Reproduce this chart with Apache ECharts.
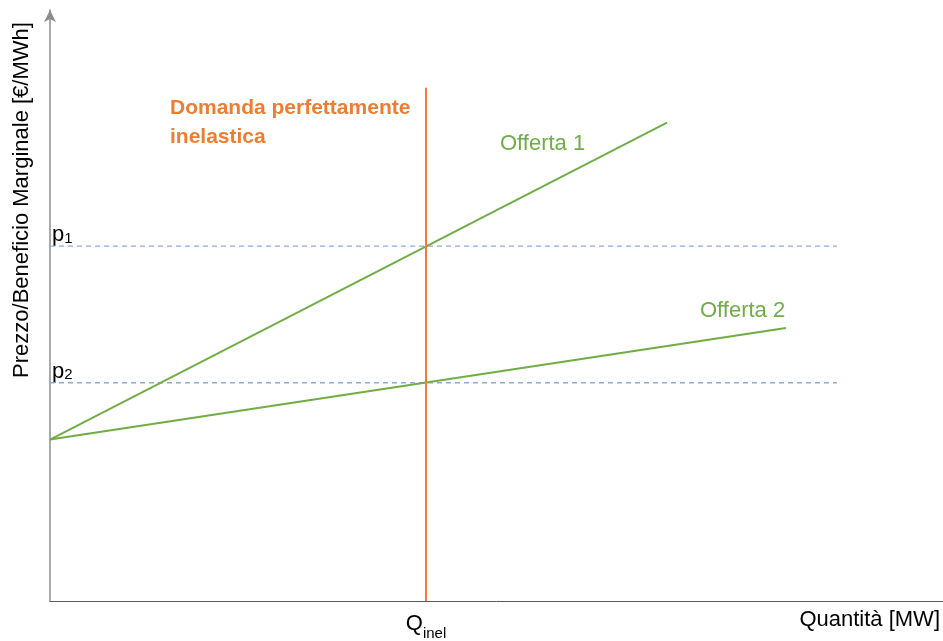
<!DOCTYPE html>
<html>
<head>
<meta charset="utf-8">
<script src="https://cdn.jsdelivr.net/npm/echarts@6/dist/echarts.min.js"></script>
<style>
  html, body { margin: 0; padding: 0; background: #fff; }
  #chart { width: 943px; height: 641px; }
</style>
</head>
<body>
<div id="chart"></div>
<script>
// quantity / price in arbitrary units (axes have no numeric ticks)
const offerta1 = [[0, 162], [617, 480]]
const offerta2 = [[0, 162], [736, 274]]
const qInel = 376
const domanda = [[qInel, 0], [qInel, 515]]
const p1 = 356
const p2 = 219
const pLineEnd = 787

const FONT = 'Liberation Sans'
const green = '#70ad47'
const orange = '#ed7d31'
const dashBlue = '#8eaadb'

const chart = echarts.init(document.getElementById('chart'))

const option = {
  animation: false,
  grid: { left: 50, right: 0, top: 10, bottom: 38 },
  xAxis: {
    type: 'value',
    min: 0,
    max: 893,
    axisLine: { show: true, lineStyle: { color: '#595959', width: 1 } },
    axisTick: { show: false },
    splitLine: { show: false },
    axisLabel: {
      customValues: [qInel],
      margin: 12,
      formatter: () => '{q|Q}{s|inel}',
      rich: {
        q: { fontFamily: FONT, fontSize: 22, color: '#000', verticalAlign: 'bottom' },
        s: { fontFamily: FONT, fontSize: 15, color: '#000', verticalAlign: 'bottom', padding: [0, 0, -6, 0] }
      }
    }
  },
  yAxis: {
    type: 'value',
    min: 0,
    max: 593,
    axisLine: {
      show: true,
      symbol: ['none', 'arrow'],
      symbolSize: [9, 12],
      lineStyle: { color: '#8c8c8c', width: 1.5 }
    },
    axisTick: { show: false },
    splitLine: { show: false },
    axisLabel: {
      inside: true,
      customValues: [p2, p1],
      margin: 2,
      verticalAlign: 'bottom',
      formatter: v => v === p1 ? '{p|p}{s|1}' : '{p|p}{s|2}',
      rich: {
        p: { fontFamily: FONT, fontSize: 22, color: '#000' },
        s: { fontFamily: FONT, fontSize: 15, color: '#000', padding: [0, 0, -7, 0] }
      }
    }
  },
  series: [
    {
      type: 'line', data: [[0, p1], [pLineEnd, p1]], symbol: 'none', silent: true,
      lineStyle: { color: dashBlue, width: 1.3, type: [5, 4] }
    },
    {
      type: 'line', data: [[0, p2], [pLineEnd, p2]], symbol: 'none', silent: true,
      lineStyle: { color: dashBlue, width: 1.3, type: [5, 4] }
    },
    {
      type: 'line', data: offerta1, symbol: 'none', silent: true,
      lineStyle: { color: green, width: 2 }
    },
    {
      type: 'line', data: offerta2, symbol: 'none', silent: true,
      lineStyle: { color: green, width: 2 }
    },
    {
      type: 'line', data: domanda, symbol: 'none', silent: true,
      lineStyle: { color: orange, width: 2 }
    }
  ]
}
chart.setOption(option)

// text annotations placed at data coordinates
const at = (x, y) => chart.convertToPixel({ gridIndex: 0 }, [x, y])
const o1 = at(450, 459)
const o2 = at(650, 291)
const dom = at(120, 509)

chart.setOption({
  graphic: [
    {
      type: 'text', x: o1[0], y: o1[1],
      style: { text: 'Offerta 1', fill: green, font: '22px "' + FONT + '"', textAlign: 'left', textVerticalAlign: 'middle' }
    },
    {
      type: 'text', x: o2[0], y: o2[1],
      style: { text: 'Offerta 2', fill: green, font: '22px "' + FONT + '"', textAlign: 'left', textVerticalAlign: 'middle' }
    },
    {
      type: 'text', x: dom[0], y: dom[1],
      style: {
        text: 'Domanda perfettamente\ninelastica', fill: orange,
        font: 'bold 21px "' + FONT + '"', lineHeight: 29, textAlign: 'left', textVerticalAlign: 'top'
      }
    },
    {
      type: 'text', x: 940, y: 620,
      style: { text: 'Quantità [MW]', fill: '#000', font: '22px "' + FONT + '"', textAlign: 'right', textVerticalAlign: 'middle' }
    },
    {
      type: 'text', x: 22, y: 200, rotation: Math.PI / 2,
      style: { text: 'Prezzo/Beneficio Marginale [€/MWh]', fill: '#000', font: '22px "' + FONT + '"', textAlign: 'center', textVerticalAlign: 'middle' }
    }
  ]
})
</script>
</body>
</html>
